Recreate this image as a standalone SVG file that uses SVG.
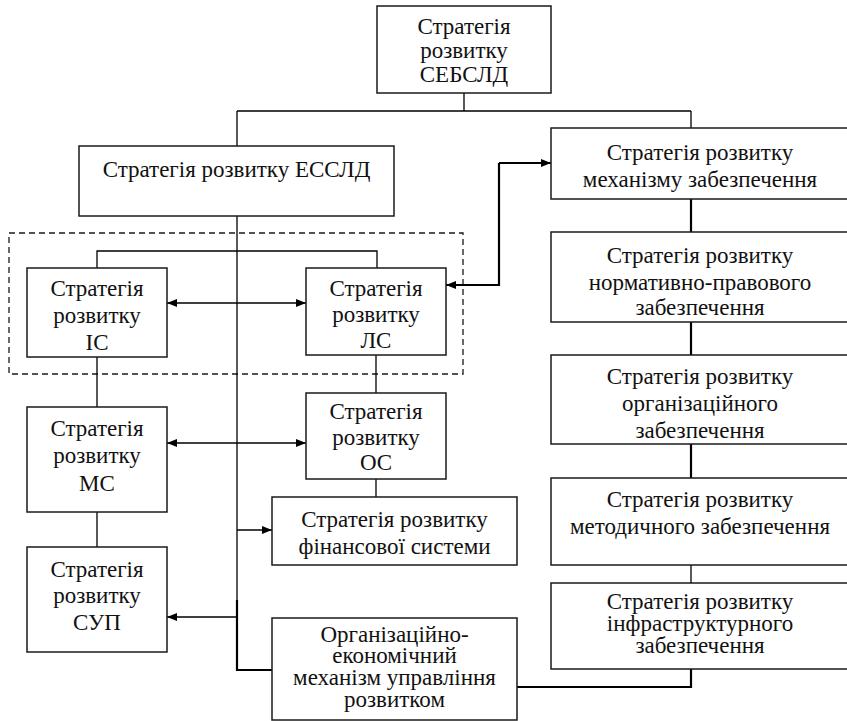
<svg xmlns="http://www.w3.org/2000/svg" width="847" height="721" viewBox="0 0 847 721">
  <style>
    .box { fill: #ffffff; stroke: #1a1a1a; stroke-width: 1.5; }
    .ln { fill: none; stroke: #000000; stroke-width: 1.3; }
    .thick { fill: none; stroke: #000000; stroke-width: 2.2; }
    .dash { fill: none; stroke: #1a1a1a; stroke-width: 1.3; stroke-dasharray: 6 4; }
  </style>
  <defs>
    <marker id="ah" viewBox="0 0 10 8" refX="10" refY="4" markerWidth="10" markerHeight="8" markerUnits="userSpaceOnUse" orient="auto-start-reverse">
      <path d="M0,0 L10,4 L0,8 Z" fill="#000000"/>
    </marker>
  </defs>

  <!-- grouping frame around ІС / ЛС -->
  <rect class="dash" x="9" y="233" width="454" height="141"/>

  <g id="connectors">
    <!-- top level tree -->
    <path class="ln" d="M464,93 V111 M237,111 H691 M237,111 V146 M691,111 V128"/>
    <!-- right column chain -->
    <path class="thick" d="M691,199 V232 M691,322 V355 M691,444 V478"/>
    <path class="ln" d="M691,565 V583"/>
    <path class="thick" d="M691,669 V687 H517"/>
    <!-- mechanism <-> ЛС -->
    <path class="thick" d="M499,163 H551" marker-end="url(#ah)"/>
    <path class="thick" d="M499,163 V285 H446" marker-end="url(#ah)"/>
    <!-- main trunk from ЕССЛД -->
    <path class="ln" d="M237,216 V600"/>
    <path class="thick" d="M237,600 V670 H272"/>
    <!-- bracket over ІС and ЛС -->
    <path class="ln" d="M97,268 V251 H377 V268"/>
    <!-- vertical links -->
    <path class="ln" d="M97,357 V407 M97,512 V547 M376,355 V393 M376,479 V497"/>
    <!-- horizontal arrows -->
    <path class="ln" d="M167,303 H306" marker-start="url(#ah)" marker-end="url(#ah)"/>
    <path class="ln" d="M167,443 H306" marker-start="url(#ah)" marker-end="url(#ah)"/>
    <path class="ln" d="M237,530 H272" marker-end="url(#ah)"/>
    <path class="ln" d="M237,617 H167" marker-end="url(#ah)"/>
  </g>

  <g font-family="Liberation Serif" font-size="23" fill="#111111" text-anchor="middle">
  <g id="sebsld">
    <rect class="box" x="377" y="6" width="174" height="87"/>
    <text x="464" y="34">Стратегія</text>
    <text x="464" y="58">розвитку</text>
    <text x="464" y="82">СЕБСЛД</text>
  </g>

  <g id="essld">
    <rect class="box" x="79" y="146" width="315" height="70"/>
    <text x="236.5" y="177">Стратегія розвитку ЕССЛД</text>
  </g>

  <g id="mechanism">
    <rect class="box" x="551" y="128" width="298" height="71"/>
    <text x="700" y="160">Стратегія розвитку</text>
    <text x="700" y="187">механізму забезпечення</text>
  </g>

  <g id="normative">
    <rect class="box" x="551" y="232" width="298" height="90"/>
    <text x="700" y="263">Стратегія розвитку</text>
    <text x="700" y="290">нормативно-правового</text>
    <text x="700" y="315">забезпечення</text>
  </g>

  <g id="organizational">
    <rect class="box" x="551" y="355" width="298" height="89"/>
    <text x="700" y="384">Стратегія розвитку</text>
    <text x="700" y="411">організаційного</text>
    <text x="700" y="438">забезпечення</text>
  </g>

  <g id="methodical">
    <rect class="box" x="551" y="478" width="298" height="87"/>
    <text x="700" y="507">Стратегія розвитку</text>
    <text x="700" y="534">методичного забезпечення</text>
  </g>

  <g id="infrastructure">
    <rect class="box" x="551" y="583" width="298" height="86"/>
    <text x="700" y="609">Стратегія розвитку</text>
    <text x="700" y="631">інфраструктурного</text>
    <text x="700" y="653">забезпечення</text>
  </g>

  <g id="is">
    <rect class="box" x="27" y="268" width="140" height="89"/>
    <text x="97" y="296">Стратегія</text>
    <text x="97" y="323">розвитку</text>
    <text x="97" y="350">ІС</text>
  </g>

  <g id="ls">
    <rect class="box" x="306" y="268" width="140" height="87"/>
    <text x="376" y="296">Стратегія</text>
    <text x="376" y="322">розвитку</text>
    <text x="376" y="348">ЛС</text>
  </g>

  <g id="ms">
    <rect class="box" x="27" y="407" width="140" height="105"/>
    <text x="97" y="436">Стратегія</text>
    <text x="97" y="463">розвитку</text>
    <text x="97" y="491">МС</text>
  </g>

  <g id="os">
    <rect class="box" x="306" y="393" width="140" height="86"/>
    <text x="376" y="419">Стратегія</text>
    <text x="376" y="445">розвитку</text>
    <text x="376" y="470">ОС</text>
  </g>

  <g id="finance">
    <rect class="box" x="272" y="497" width="245" height="68"/>
    <text x="394.5" y="527">Стратегія розвитку</text>
    <text x="394.5" y="554">фінансової системи</text>
  </g>

  <g id="sup">
    <rect class="box" x="27" y="547" width="140" height="105"/>
    <text x="97" y="577">Стратегія</text>
    <text x="97" y="603">розвитку</text>
    <text x="97" y="630">СУП</text>
  </g>

  <g id="org-econ">
    <rect class="box" x="272" y="618" width="245" height="102"/>
    <text x="394.5" y="642">Організаційно-</text>
    <text x="394.5" y="663">економічний</text>
    <text x="394.5" y="685">механізм управління</text>
    <text x="394.5" y="707">розвитком</text>
  </g>
  </g>
</svg>
